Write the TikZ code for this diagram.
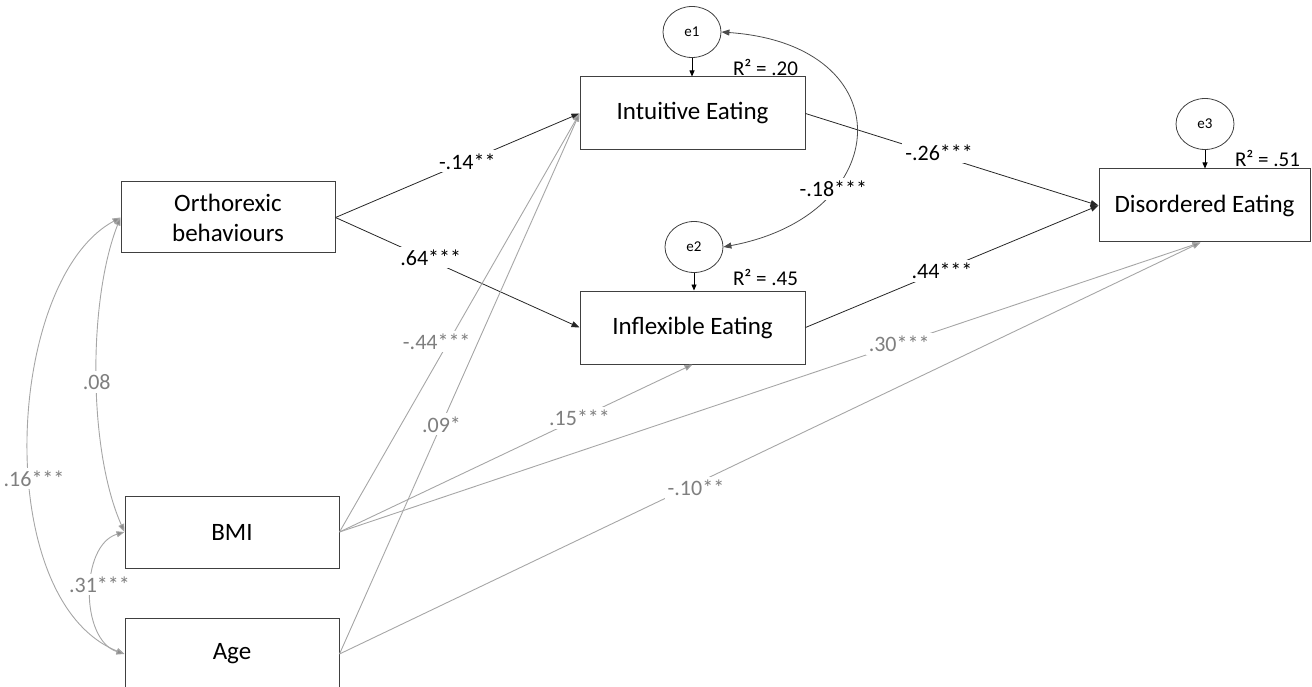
\documentclass[tikz,border=0pt]{standalone}
\usepackage{fontspec}
\setmainfont{Carlito}
\usetikzlibrary{arrows.meta, shapes.geometric}
\definecolor{linegray}{HTML}{A6A6A6}
\definecolor{textgray}{HTML}{7F7F7F}
\definecolor{tipgray}{HTML}{8C8C8C}
\definecolor{boxline}{HTML}{404040}

\tikzset{
    box/.style = {draw = boxline, line width = 1pt, rectangle, inner sep = 0pt, align = center, font = \fontsize{25}{30}\selectfont},
    err/.style = {draw = boxline, line width = 0.8pt, ellipse, minimum width = 58pt, minimum height = 51pt, inner sep = 0pt, font = \fontsize{15}{17}\selectfont},
    coef/.style = {fill = white, inner sep = 3pt, font = \fontsize{22}{25}\selectfont},
    gcoef/.style = {coef, text = textgray},
    rsq/.style = {inner sep = 0pt, font = \fontsize{21}{24}\selectfont},
    blkarrow/.style = {-{Triangle[length = 8pt, width = 6pt]}, draw = black!85, line width = 0.8pt},
    blkboth/.style = {{Triangle[length = 8pt, width = 6pt]}-{Triangle[length = 8pt, width = 6pt]}, draw = black!70, line width = 0.8pt},
    errarrow/.style = {-{Triangle[length = 6pt, width = 5pt]}, draw = black, line width = 0.8pt},
    grayarrow/.style = {-{Triangle[length = 8pt, width = 6pt, fill = tipgray]}, draw = linegray, line width = 0.9pt},
    grayboth/.style = {{Triangle[length = 8pt, width = 6pt, fill = tipgray]}-{Triangle[length = 8pt, width = 6pt, fill = tipgray]}, draw = linegray, line width = 0.9pt}
}

\begin{document}
\begin{tikzpicture}

        \useasboundingbox (0pt, 0pt) rectangle (1312pt, -687pt);

        % Boxes
        \node [box, minimum width = 214pt, minimum height = 71pt] (ortho) at (228pt, -217.5pt) {Orthorexic\\behaviours};
        \node [box, minimum width = 214pt, minimum height = 72pt] (bmi) at (232pt, -532pt) {BMI};
        \node [box, minimum width = 214pt, minimum height = 72pt] (age) at (232pt, -654pt) {Age};
        \node [box, minimum width = 225pt, minimum height = 73pt] (intu) at (692.5pt, -113.5pt) {Intuitive Eating};
        \node [box, minimum width = 225pt, minimum height = 73pt] (infl) at (692.5pt, -327.5pt) {Inflexible Eating};
        \node [box, minimum width = 211pt, minimum height = 73pt] (dis) at (1204.5pt, -205.5pt) {Disordered Eating};

        % Errors
        \node [err] (e1) at (692pt, -32pt) {e1};
        \node [err] (e2) at (694pt, -247pt) {e2};
        \node [err] (e3) at (1205pt, -124pt) {e3};
        \node [rsq] (r1) at (765.5pt, -67pt) {R² = .20};
        \node [rsq] (r2) at (765.5pt, -277pt) {R² = .45};
        \node [rsq] (r3) at (1267.5pt, -158.5pt) {R² = .51};

        \draw [errarrow] (e1.south) -- (e1.south |- intu.north);
        \draw [errarrow] (e2.south) -- (e2.south |- infl.north);
        \draw [errarrow] (e3.south) -- (e3.south |- dis.north);

        % Black paths
        \draw [blkarrow] (ortho.east) -- node [coef, pos = 0.54] {-.14**} (intu.west);
        \draw [blkarrow] (ortho.east) -- node [coef, pos = 0.39, yshift = 3pt] {.64***} (infl.west);
        \draw [blkarrow] (intu.east) -- node [coef, pos = 0.456, yshift = 3pt] {-.26***} (dis.west);
        \draw [blkarrow] (infl.east) -- node [coef, pos = 0.466] {.44***} (dis.west);
        \draw [blkboth] (e1.east) .. controls (905pt, -45pt) and (895pt, -215pt) .. node [coef, pos = 0.7] {-.18***} (e2.east);

        % Gray paths
        \draw [grayarrow] (bmi.east) -- node [gcoef, pos = 0.455, xshift = -12pt] {-.44***} (intu.west);
        \draw [grayarrow] (age.east) -- node [gcoef, pos = 0.425] {.09*} (intu.west);
        \draw [grayarrow] (bmi.east) -- node [gcoef, pos = 0.68] {.15***} (infl.south);
        \draw [grayarrow] (bmi.east) -- node [gcoef, pos = 0.65] {.30***} ([xshift = -4pt] dis.south);
        \draw [grayarrow] (age.east) -- node [gcoef, pos = 0.414, yshift = -4pt] {-.10**} ([xshift = -4pt] dis.south);

        % Covariances
        \draw [grayboth] (ortho.west) .. controls (88pt, -300pt) and (88pt, -450pt) .. node [gcoef, pos = 0.52] {.08} (bmi.west);
        \draw [grayboth] (ortho.west) .. controls (5pt, -280pt) and (-10pt, -600pt) .. node [gcoef, pos = 0.57, xshift = 4pt] {.16***} (age.west);
        \draw [grayboth] (bmi.west) .. controls (80pt, -545pt) and (80pt, -640pt) .. node [gcoef, pos = 0.45, xshift = 8pt] {.31***} (age.west);

\end{tikzpicture}
\end{document}
